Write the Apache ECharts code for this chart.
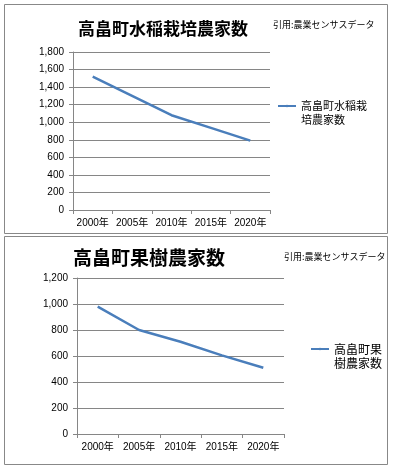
<!DOCTYPE html>
<html><head><meta charset="utf-8">
<script src="https://cdn.jsdelivr.net/npm/echarts@6/dist/echarts.min.js"></script>
<style>html,body{margin:0;padding:0;background:#fff}#c{width:394px;height:470px}</style>
</head><body><div id="c"></div>
<script>
const years = ['2000年', '2005年', '2010年', '2015年', '2020年'];
const riceFarmers = [1520, 1300, 1080, 935, 790];
const fruitFarmers = [980, 800, 710, 605, 510];
const riceName = '高畠町水稲栽培農家数';
const fruitName = '高畠町果樹農家数';
const riceAxis = { min: 0, max: 1800, interval: 200 };
const fruitAxis = { min: 0, max: 1200, interval: 200 };
const source = '引用:農業センサスデータ';

const FONT = '"Liberation Sans", "Noto Sans CJK JP", sans-serif';
const CJK = '"Noto Sans CJK JP", sans-serif';
const GRAY = '#868686';
const BLUE = '#4A7EBB';

function xAxis(gi) {
  return {
    type: 'category', gridIndex: gi, data: years, boundaryGap: true,
    axisLine: { lineStyle: { color: GRAY, width: 1 } },
    axisTick: { show: true, length: 4, interval: 0, lineStyle: { color: GRAY } },
    axisLabel: { color: '#000', fontSize: 10, fontFamily: FONT, margin: 8, interval: 0 }
  };
}
function yAxis(gi, ax) {
  return {
    type: 'value', gridIndex: gi, min: ax.min, max: ax.max, interval: ax.interval,
    axisLine: { show: true, lineStyle: { color: GRAY, width: 1 } },
    axisTick: { show: true, length: 4, lineStyle: { color: GRAY } },
    axisLabel: { color: '#000', fontSize: 10, fontFamily: FONT, margin: 9,
      formatter: v => v.toLocaleString('en-US') },
    splitLine: { show: true, lineStyle: { color: GRAY, width: 1 } }
  };
}
// three lines centred on the legend icon: blank, first part, second part
function wrap(name, n) { return ' \n' + name.slice(0, n) + '\n' + name.slice(n); }

const chart = echarts.init(document.getElementById('c'), null, { renderer: 'canvas' });
chart.setOption({
  animation: false,
  backgroundColor: '#fff',
  title: [
    { text: riceName, left: 78, top: 20, padding: 0,
      textStyle: { fontSize: 17, fontWeight: 'bold', color: '#000', fontFamily: CJK } },
    { text: source, left: 273, top: 20, padding: 0,
      textStyle: { fontSize: 9, fontWeight: 'normal', color: '#000', fontFamily: CJK } },
    { text: fruitName, left: 73, top: 248, padding: 0,
      textStyle: { fontSize: 19, fontWeight: 'bold', color: '#000', fontFamily: CJK } },
    { text: source, left: 284, top: 252, padding: 0,
      textStyle: { fontSize: 9, fontWeight: 'normal', color: '#000', fontFamily: CJK } }
  ],
  legend: [
    { data: [riceName], left: 277, top: 85, padding: 0, itemWidth: 18, itemHeight: 3,
      formatter: n => wrap(n, 6),
      textStyle: { fontSize: 11, color: '#000', fontFamily: CJK, lineHeight: 14 } },
    { data: [fruitName], left: 310, top: 328, padding: 0, itemWidth: 18, itemHeight: 3,
      formatter: n => wrap(n, 4),
      textStyle: { fontSize: 12, color: '#000', fontFamily: CJK, lineHeight: 14 } }
  ],
  grid: [
    { left: 73, right: 124, top: 52, height: 158, containLabel: false },
    { left: 77, right: 110, top: 278, height: 156, containLabel: false }
  ],
  xAxis: [xAxis(0), xAxis(1)],
  yAxis: [yAxis(0, riceAxis), yAxis(1, fruitAxis)],
  series: [
    { name: riceName, type: 'line', xAxisIndex: 0, yAxisIndex: 0, data: riceFarmers,
      symbol: 'none', lineStyle: { color: BLUE, width: 2.5 }, itemStyle: { color: BLUE } },
    { name: fruitName, type: 'line', xAxisIndex: 1, yAxisIndex: 1, data: fruitFarmers,
      symbol: 'none', lineStyle: { color: BLUE, width: 2.5 }, itemStyle: { color: BLUE } }
  ],
  graphic: [
    { type: 'rect', shape: { x: 4.5, y: 4.5, width: 383, height: 229 }, style: { fill: 'none', stroke: '#888', lineWidth: 1 }, silent: true },
    { type: 'rect', shape: { x: 4.5, y: 236.5, width: 383, height: 228 }, style: { fill: 'none', stroke: '#888', lineWidth: 1 }, silent: true }
  ]
});
</script></body></html>
